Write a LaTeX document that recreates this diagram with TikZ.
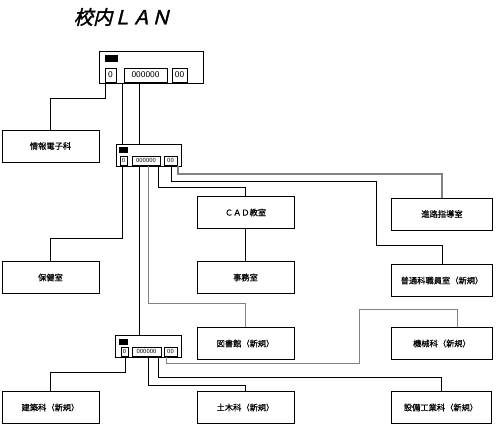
\documentclass[tikz,border=0pt]{standalone}
\usepackage{fontspec}
\newfontfamily\jpfont{Noto Sans CJK JP}[FakeBold=0.4]
\newfontfamily\jptitle{Noto Sans CJK JP}[FakeSlant=0.25,FakeBold=1.8]
\usetikzlibrary{calc}
\definecolor{lineGray}{RGB}{130,130,130}

\begin{document}
\begin{tikzpicture}[x=0.02cm, y=-0.02cm,
    room/.style={draw, fill=white, line width=0.4pt, minimum width=1.94cm, minimum height=0.64cm, inner sep=0pt, font=\jpfont\fontsize{4.7}{5}\selectfont},
    hub/.style={draw, fill=white, line width=0.4pt, inner sep=0pt},
    port/.style={draw, fill=white, line width=0.3pt, inner sep=0pt, font=\sffamily\fontsize{3.5}{3.5}\selectfont},
    led/.style={fill=black, inner sep=0pt},
    wire/.style={line width=0.4pt},
    gwire/.style={lineGray, line width=0.5pt}]
    \useasboundingbox (0,0) rectangle (500,425);
    % Title
    \node[font=\jptitle\fontsize{11}{12}\selectfont] (title) at (122,17) {校内ＬＡＮ};
    % Top hub
    \node[hub, minimum width=2.08cm, minimum height=0.64cm] (h1) at (151,67) {};
    \node[led, minimum width=0.26cm, minimum height=0.14cm] (h1led) at (111.5,59) {};
    \node[port, minimum width=0.22cm, minimum height=0.28cm, font=\sffamily\fontsize{5}{5}\selectfont] (h1a) at (110.5,75) {0};
    \node[port, minimum width=0.86cm, minimum height=0.28cm, font=\sffamily\fontsize{5}{5}\selectfont] (h1b) at (145.5,75) {000000};
    \node[port, minimum width=0.30cm, minimum height=0.28cm, font=\sffamily\fontsize{5}{5}\selectfont] (h1c) at (179.5,75) {00};
    % Middle hub
    \node[hub, minimum width=1.30cm, minimum height=0.44cm] (h2) at (148.5,155) {};
    \node[led, minimum width=0.18cm, minimum height=0.12cm] (h2led) at (123.5,150) {};
    \node[port, minimum width=0.14cm, minimum height=0.18cm] (h2a) at (123.5,160.5) {0};
    \node[port, minimum width=0.56cm, minimum height=0.18cm] (h2b) at (146,160.5) {000000};
    \node[port, minimum width=0.26cm, minimum height=0.18cm] (h2c) at (170.5,160.5) {00};
    % Bottom hub
    \node[hub, minimum width=1.32cm, minimum height=0.44cm] (h3) at (148,346) {};
    \node[led, minimum width=0.18cm, minimum height=0.12cm] (h3led) at (123.5,342) {};
    \node[port, minimum width=0.14cm, minimum height=0.18cm] (h3a) at (124.5,351.5) {0};
    \node[port, minimum width=0.58cm, minimum height=0.18cm] (h3b) at (146.5,351.5) {000000};
    \node[port, minimum width=0.26cm, minimum height=0.18cm] (h3c) at (170.5,351.5) {00};
    % Rooms
    \node[room] (jyoho) at (50.5,146) {情報電子科};
    \node[room] (hoken) at (50.5,277.5) {保健室};
    \node[room] (kenchiku) at (50.5,407.5) {建築科（新規）};
    \node[room] (cad) at (245.5,212.5) {ＣＡＤ教室};
    \node[room] (jimu) at (245.5,277.5) {事務室};
    \node[room] (tosho) at (245.5,343.5) {図書館（新規）};
    \node[room] (doboku) at (245.5,407.5) {土木科（新規）};
    \node[room, minimum width=2.02cm] (shinro) at (442,214) {進路指導室};
    \node[room, minimum width=2.02cm] (futsu) at (442,280.5) {普通科職員室（新規）};
    \node[room, minimum width=2.02cm] (kikai) at (442,343.5) {機械科（新規）};
    \node[room, minimum width=2.00cm] (setsubi) at (441,407.5) {設備工業科（新規）};
    % Cables from the top hub
    \coordinate (h1o1) at (105,83);
    \coordinate (h1o2) at (122,83);
    \coordinate (h1o3) at (139,83);
    \draw[wire] (h1o1) -- ++(0,15) -| (jyoho.north);
    \draw[wire] (h1o2) -- (h1o2 |- h2.north);
    \draw[wire] (h1o3) -- (h1o3 |- h2.north);
    \draw[wire] (h1o3 |- h2.south) -- (h1o3 |- h3.north);
    % Cables from the middle hub
    \coordinate (h2o1) at (122,166);
    \coordinate (h2o2) at (148,166);
    \coordinate (h2o3) at (158,166);
    \coordinate (h2o4) at (171,166);
    \coordinate (h2o5) at (178,166);
    \draw[wire] (h2o1) -- ++(0,72) -| (hoken.north);
    \draw[gwire] (h2o2) -- ++(0,137) -| (tosho.north);
    \draw[wire] (h2o3) -- ++(0,21) -| (cad.north);
    \draw[wire] (cad) -- (jimu);
    \draw[wire] (h2o4) -- ++(0,15) -| ++(205,64) -| (futsu.north);
    \draw[gwire, line width=0.9pt] (h2o5) -- ++(0,8) -| (shinro.north);
    % Cables from the bottom hub
    \coordinate (h3o1) at (125,357);
    \coordinate (h3o2) at (148,357);
    \coordinate (h3o3) at (158,357);
    \coordinate (h3o4) at (166,357);
    \draw[wire] (h3o1) -- ++(0,15) -| (kenchiku.north);
    \draw[wire] (h3o2) -- ++(0,28) -| (doboku.north);
    \draw[wire] (h3o3) -- ++(0,20) -| (setsubi.north);
    \draw[gwire] (h3o4) -- ++(0,6) -| ++(193,-54) -| ([xshift=0.3cm]kikai.north);
\end{tikzpicture}
\end{document}
